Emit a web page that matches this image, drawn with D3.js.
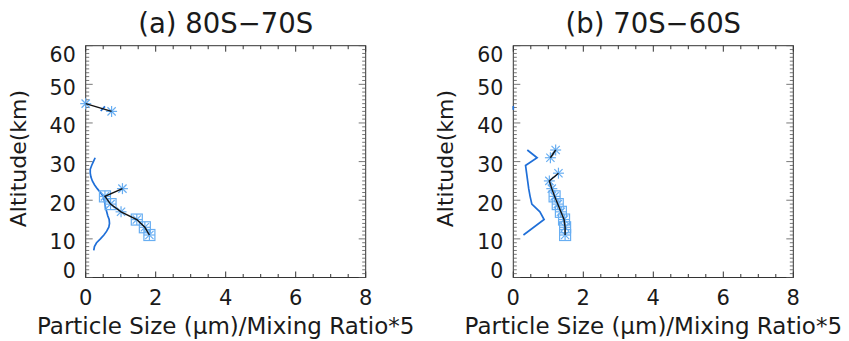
<!DOCTYPE html>
<html><head><meta charset="utf-8">
<script src="https://cdn.jsdelivr.net/npm/d3@7"></script>
<style>body{margin:0;background:#fff}svg{display:block}text{font-family:"DejaVu Sans",sans-serif;fill:#1a1a1a}</style>
</head><body>
<svg id="c" width="849" height="341"></svg>
<script>
// ---- data ----
const titles = ["(a) 80S\u221270S", "(b) 70S\u221260S"];
const xTicks = [0, 2, 4, 6, 8];
const yTicks = [0, 10, 20, 30, 40, 50, 60];
// panel a: particle size (two segments)
const sizeA_alt1 = [11, 13, 15, 17, 19, 21, 23];
const sizeA_val1 = [1.82, 1.69, 1.46, 1.01, 0.71, 0.55, 1.05];
const sizeA_box1 = [1, 1, 1, 0, 1, 1, 0];
const sizeA_alt2 = [43, 45];
const sizeA_val2 = [0.74, 0.0];
const sizeA_box2 = [0, 0];
// panel a: mixing ratio*5
const mixA_alt1 = [7, 8, 9, 10, 11, 12, 13, 14, 15, 16, 17, 18, 19, 20, 21, 22, 23, 24, 25, 26, 27, 28, 29, 30, 31];
const mixA_val1 = [0.23, 0.25, 0.31, 0.42, 0.52, 0.60, 0.66, 0.68, 0.67, 0.63, 0.60, 0.57, 0.55, 0.53, 0.50, 0.42, 0.33, 0.25, 0.19, 0.15, 0.13, 0.13, 0.17, 0.22, 0.27];
const mixA_alt2 = [43.1, 44.3];
const mixA_val2 = [0.43, 0.55];
// panel b: particle size
const sizeB_alt1 = [11, 13, 15, 17, 19, 21, 23, 25, 27];
const sizeB_val1 = [1.48, 1.48, 1.45, 1.36, 1.27, 1.18, 1.10, 1.03, 1.29];
const sizeB_box1 = [1, 1, 1, 1, 1, 1, 0, 0, 0];
const sizeB_alt2 = [31, 33];
const sizeB_val2 = [1.06, 1.21];
const sizeB_box2 = [0, 0];
// panel b: mixing ratio*5
const mixB_alt1 = [11, 15, 17, 19, 21, 23, 25, 27, 29, 31, 33];
const mixB_val1 = [0.29, 0.88, 0.76, 0.53, 0.48, 0.44, 0.41, 0.38, 0.35, 0.68, 0.40];
const mixB_alt2 = [43.4, 44.4];
const mixB_val2 = [0.0, 0.0];

const panels = [
  {title: titles[0], left: 85.7,
   size: [[sizeA_alt1, sizeA_val1, sizeA_box1], [sizeA_alt2, sizeA_val2, sizeA_box2]],
   mix: [[mixA_alt1, mixA_val1], [mixA_alt2, mixA_val2]]},
  {title: titles[1], left: 513.3,
   size: [[sizeB_alt1, sizeB_val1, sizeB_box1], [sizeB_alt2, sizeB_val2, sizeB_box2]],
   mix: [[mixB_alt1, mixB_val1], [mixB_alt2, mixB_val2]]}
];

const pTop = 45.7, pBottom = 277.5, W = 280;
const svg = d3.select("#c");
const blue = "#1f6fd8", light = "#68aef2";

panels.forEach(p => {
  const x = d3.scaleLinear().domain([0, 8]).range([p.left, p.left + W]);
  const y = d3.scaleLinear().domain([0, 60]).range([pBottom, pTop]);
  const g = svg.append("g");

  // frame
  g.append("rect").attr("x", x(0)).attr("y", y(60)).attr("width", W).attr("height", pBottom - pTop)
    .attr("fill", "none").attr("stroke", "#333").attr("stroke-width", 1);

  // ticks (inward)
  const xMinor = d3.range(0, 8.01, 0.5);
  xMinor.forEach(v => {
    const L = (v % 2 === 0) ? 6 : 3.5;
    g.append("line").attr("x1", x(v)).attr("x2", x(v)).attr("y1", pBottom).attr("y2", pBottom - L).attr("stroke", "#333");
    g.append("line").attr("x1", x(v)).attr("x2", x(v)).attr("y1", pTop).attr("y2", pTop + L).attr("stroke", "#333");
  });
  const yMinor = d3.range(0, 60.01, 1);
  yMinor.forEach(v => {
    const L = (v % 10 === 0) ? 7 : 3.5;
    g.append("line").attr("y1", y(v)).attr("y2", y(v)).attr("x1", x(0)).attr("x2", x(0) + L).attr("stroke", "#555").attr("stroke-width", 0.8);
    g.append("line").attr("y1", y(v)).attr("y2", y(v)).attr("x1", x(8)).attr("x2", x(8) - L).attr("stroke", "#555").attr("stroke-width", 0.8);
  });

  // tick labels
  xTicks.forEach(v => {
    g.append("text").attr("x", x(v)).attr("y", 305).attr("text-anchor", "middle")
      .attr("font-size", 21).text(v);
  });
  yTicks.forEach(v => {
    let cy = y(v) + 3;
    cy = Math.max(cy, pTop + 9.3);
    cy = Math.min(cy, pBottom - 7);
    g.append("text").attr("x", x(0) - 10).attr("y", cy).attr("dy", "0.36em").attr("text-anchor", "end")
      .attr("font-size", 20.5).text(v);
  });

  // titles
  g.append("text").attr("x", x(4)).attr("y", 33).attr("text-anchor", "middle").attr("font-size", 27.5).text(p.title);
  g.append("text").attr("x", x(4)).attr("y", 334).attr("text-anchor", "middle").attr("font-size", 23)
    .text("Particle Size (\u03bcm)/Mixing Ratio*5");
  g.append("text").attr("transform", `translate(${x(0) - 60},${(pTop + pBottom) / 2 - 3}) rotate(-90)`)
    .attr("text-anchor", "middle").attr("font-size", 22).text("Altitude(km)");

  const marks = g.append("g");
  const line = d3.line().x(d => x(d[1])).y(d => y(d[0]));

  // mixing ratio lines
  p.mix.forEach(([alts, vals]) => {
    const pts = alts.map((a, i) => [a, vals[i]]);
    marks.append("path").attr("d", line(pts)).attr("fill", "none").attr("stroke", blue).attr("stroke-width", 1.7);
  });

  // particle size markers + line
  p.size.forEach(([alts, vals, boxes]) => {
    const pts = alts.map((a, i) => [a, vals[i]]);
    const r = 5.5;
    pts.forEach((d, i) => {
      const cx = x(d[1]), cy = y(d[0]);
      const m = marks.append("g").attr("stroke", light).attr("stroke-width", 1.2).attr("fill", "none");
      m.append("line").attr("x1", cx - r).attr("x2", cx + r).attr("y1", cy).attr("y2", cy);
      m.append("line").attr("x1", cx).attr("x2", cx).attr("y1", cy - r).attr("y2", cy + r);
      m.append("line").attr("x1", cx - r * 0.75).attr("x2", cx + r * 0.75).attr("y1", cy - r * 0.75).attr("y2", cy + r * 0.75);
      m.append("line").attr("x1", cx - r * 0.75).attr("x2", cx + r * 0.75).attr("y1", cy + r * 0.75).attr("y2", cy - r * 0.75);
      if (boxes[i]) m.append("rect").attr("x", cx - r).attr("y", cy - r).attr("width", 2 * r).attr("height", 2 * r);
    });
    marks.append("path").attr("d", line(pts)).attr("fill", "none").attr("stroke", "#111").attr("stroke-width", 1.4);
  });
});
</script>
</body></html>
